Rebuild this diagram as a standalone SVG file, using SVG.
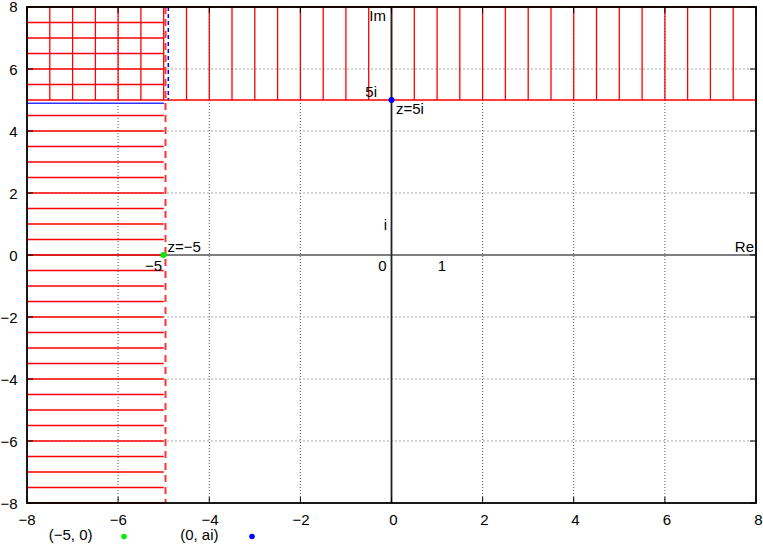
<svg xmlns="http://www.w3.org/2000/svg" width="763" height="545" viewBox="0 0 763 545">
<style>
text{font-family:"Liberation Sans",Arial,sans-serif;font-size:15px;fill:#000}
.gv{stroke:#555;stroke-width:1;stroke-dasharray:1,2;fill:none}
.gh{stroke:#aaa;stroke-width:1;stroke-dasharray:2,2;fill:none}
.red{stroke:#ff0000;stroke-width:1.3;fill:none}
.tick{stroke:#000;stroke-width:1;fill:none}
.l{text-anchor:end}
.m{text-anchor:middle}
</style>
<rect width="763" height="545" fill="#fff"/>
<g id="grid">
<path class="gv" d="M118.1 7V503M209.3 7V503M300.4 7V503M482.6 7V503M573.7 7V503M664.9 7V503"/>
<path class="gh" d="M27 69H756M27 131H756M27 193H756M27 317H756M27 379H756M27 441H756"/>
</g>
<g id="xaxis"><path d="M27 255H756" stroke="#000" stroke-width="1.2"/></g>
<g id="region">
<path class="red" d="M27 7V100M49.8 7V100M72.6 7V100M95.4 7V100M118.1 7V100M140.9 7V100M163.7 7V100M186.5 7V100M209.3 7V100M232 7V100M254.8 7V100M277.6 7V100M300.4 7V100M323.2 7V100M345.9 7V100M368.7 7V100M391.5 7V100M414.3 7V100M437.1 7V100M459.8 7V100M482.6 7V100M505.4 7V100M528.2 7V100M551 7V100M573.7 7V100M596.5 7V100M619.3 7V100M642.1 7V100M664.9 7V100M687.6 7V100M710.4 7V100M733.2 7V100M756 7V100"/>
<path class="red" d="M27 7H756M27 22.5H163.7M27 38H163.7M27 53.5H163.7M27 69H163.7M27 84.5H163.7M27 100H756"/>
<path class="red" d="M27 115.5h136.7M27 131h136.7M27 146.5h136.7M27 162h136.7M27 177.5h136.7M27 193h136.7M27 208.5h136.7M27 224h136.7M27 239.5h136.7M27 255h136.7M27 270.5h136.7M27 286h136.7M27 301.5h136.7M27 317h136.7M27 332.5h136.7M27 348h136.7M27 363.5h136.7M27 379h136.7M27 394.5h136.7M27 410h136.7M27 425.5h136.7M27 441h136.7M27 456.5h136.7M27 472h136.7M27 487.5h136.7M27 503h136.7"/>
<path d="M165.5 7V503" stroke="#ff3333" stroke-width="2" stroke-dasharray="7,5" fill="none"/>
<path d="M168.3 7V100" stroke="#0000ff" stroke-width="1.5" stroke-dasharray="4,3" fill="none"/>
<path d="M27 103.3H164" stroke="#3333ff" stroke-width="1.5" fill="none"/>
</g>
<g id="yaxis"><path d="M391.5 7V503" stroke="#222" stroke-width="1.8"/></g>
<g id="ticks">
<path class="tick" d="M27 7h6M27 69h6M27 131h6M27 193h6M27 255h6M27 317h6M27 379h6M27 441h6M27 503h6M756 7h-6M756 69h-6M756 131h-6M756 193h-6M756 255h-6M756 317h-6M756 379h-6M756 441h-6M756 503h-6"/>
<path class="tick" d="M27 503v-6M118.1 503v-6M209.3 503v-6M300.4 503v-6M391.5 503v-6M482.6 503v-6M573.7 503v-6M664.9 503v-6M756 503v-6M27 7v6M118.1 7v6M209.3 7v6M300.4 7v6M391.5 7v6M482.6 7v6M573.7 7v6M664.9 7v6M756 7v6"/>
</g>
<g id="border"><rect x="27" y="7" width="729" height="496" fill="none" stroke="#000" stroke-width="1.8"/></g>
<g id="ylabels">
<text class="l" x="17.5" y="12">8</text>
<text class="l" x="17.5" y="74.5">6</text>
<text class="l" x="17.5" y="136.5">4</text>
<text class="l" x="17.5" y="198.5">2</text>
<text class="l" x="17.5" y="260.5">0</text>
<text class="l" x="17.5" y="322.5">−2</text>
<text class="l" x="17.5" y="384.5">−4</text>
<text class="l" x="17.5" y="446.5">−6</text>
<text class="l" x="17.5" y="508.5">−8</text>
</g>
<g id="xlabels">
<text class="m" x="27" y="525">−8</text>
<text class="m" x="118.3" y="525">−6</text>
<text class="m" x="210" y="525">−4</text>
<text class="m" x="301" y="525">−2</text>
<text class="m" x="393.5" y="525">0</text>
<text class="m" x="484.5" y="525">2</text>
<text class="m" x="575.5" y="525">4</text>
<text class="m" x="667" y="525">6</text>
<text class="m" x="758.5" y="525">8</text>
</g>
<g id="annotations">
<text class="l" x="386" y="20.5">Im</text>
<text class="l" x="377" y="97">5i</text>
<text x="396" y="114">z=5i</text>
<text class="l" x="387" y="230">i</text>
<text class="l" x="386.5" y="271">0</text>
<text class="m" x="442" y="271">1</text>
<text class="l" x="754" y="251.5">Re</text>
<text x="167.5" y="251.5">z=−5</text>
<text class="l" x="162" y="270.5">−5</text>
</g>
<g id="point-a"><circle cx="163.5" cy="255" r="3" fill="#00ee00"/></g>
<g id="point-b"><circle cx="391.5" cy="100" r="3" fill="#0000ff"/></g>
<g id="legend">
<text class="l" x="92.5" y="540">(−5, 0)</text>
<circle cx="124" cy="536.5" r="2.8" fill="#00ee00"/>
<text class="l" x="218.5" y="540">(0, ai)</text>
<circle cx="252" cy="536.5" r="2.8" fill="#0000ff"/>
</g>
</svg>
